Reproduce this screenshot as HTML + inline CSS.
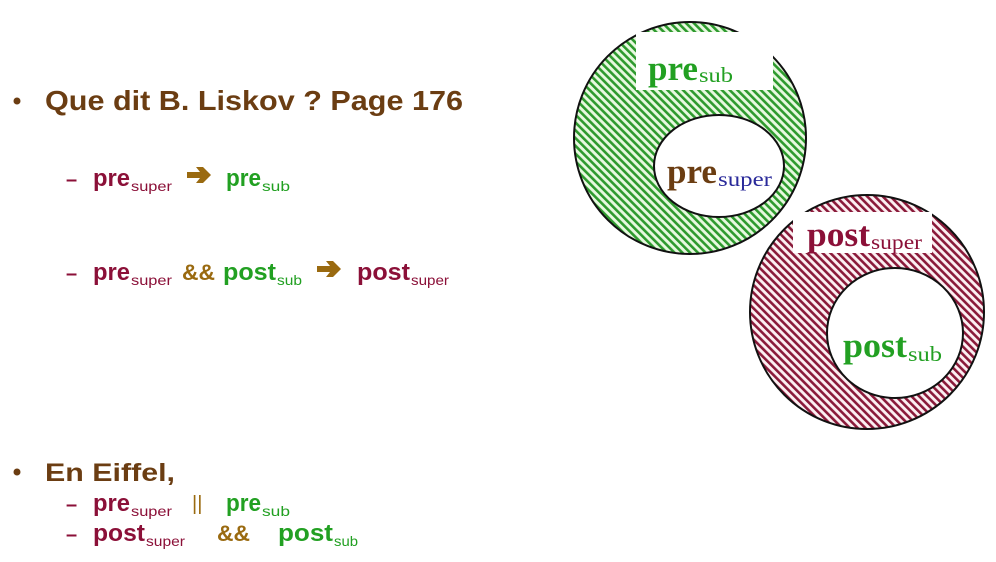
<!DOCTYPE html>
<html><head><meta charset="utf-8"><style>
html,body{margin:0;padding:0;background:#fff;}
svg{display:block;}
</style></head><body>
<svg width="996" height="562" viewBox="0 0 996 562" xmlns="http://www.w3.org/2000/svg">
<defs>
<pattern id="hg" patternUnits="userSpaceOnUse" width="5.5" height="5.5" patternTransform="rotate(-45)">
<rect width="5.5" height="5.5" fill="#e8f9e0"/><rect width="2.6" height="5.5" fill="#2e9a2e"/>
</pattern>
<pattern id="hr" patternUnits="userSpaceOnUse" width="5.5" height="5.5" patternTransform="rotate(-45)">
<rect width="5.5" height="5.5" fill="#fcf0f2"/><rect width="2.6" height="5.5" fill="#8a1a3a"/>
</pattern>
</defs>
<g font-family="Liberation Sans, sans-serif" font-weight="bold">
<circle cx="17" cy="101" r="3.5" fill="#6b3d12"/>
<text x="45" y="110" font-size="28" fill="#6b3d12" textLength="418" lengthAdjust="spacingAndGlyphs">Que dit B. Liskov ? Page 176</text>

<text x="66" y="186" font-size="20" fill="#8b1038">–</text>
<text x="93" y="186" font-size="24" fill="#8b1038" textLength="37" lengthAdjust="spacingAndGlyphs">pre</text>
<text x="131" y="191" font-size="14" font-weight="normal" fill="#8b1038" textLength="41" lengthAdjust="spacingAndGlyphs">super</text>
<polygon points="187,172 200,172 196,167 203,167 211,175 203,183 196,183 200,178 187,178" fill="#9a6a10"/>
<text x="226" y="186" font-size="24" fill="#22a022" textLength="35" lengthAdjust="spacingAndGlyphs">pre</text>
<text x="262" y="191" font-size="14" font-weight="normal" fill="#22a022" textLength="28" lengthAdjust="spacingAndGlyphs">sub</text>

<text x="66" y="280" font-size="20" fill="#8b1038">–</text>
<text x="93" y="280" font-size="24" fill="#8b1038" textLength="37" lengthAdjust="spacingAndGlyphs">pre</text>
<text x="131" y="285" font-size="14" font-weight="normal" fill="#8b1038" textLength="41" lengthAdjust="spacingAndGlyphs">super</text>
<text x="182" y="280" font-size="22" fill="#9a6a10" textLength="33" lengthAdjust="spacingAndGlyphs">&amp;&amp;</text>
<text x="223" y="280" font-size="24" fill="#22a022" textLength="53" lengthAdjust="spacingAndGlyphs">post</text>
<text x="277" y="285" font-size="14" font-weight="normal" fill="#22a022" textLength="25" lengthAdjust="spacingAndGlyphs">sub</text>
<polygon points="317,266 330,266 326,261 333,261 341,269 333,277 326,277 330,272 317,272" fill="#9a6a10"/>
<text x="357" y="280" font-size="24" fill="#8b1038" textLength="53" lengthAdjust="spacingAndGlyphs">post</text>
<text x="411" y="285" font-size="14" font-weight="normal" fill="#8b1038" textLength="38" lengthAdjust="spacingAndGlyphs">super</text>

<circle cx="17" cy="472" r="3.5" fill="#6b3d12"/>
<text x="45" y="481" font-size="25" fill="#6b3d12" textLength="130" lengthAdjust="spacingAndGlyphs">En Eiffel,</text>

<text x="66" y="511" font-size="20" fill="#8b1038">–</text>
<text x="93" y="511" font-size="24" fill="#8b1038" textLength="37" lengthAdjust="spacingAndGlyphs">pre</text>
<text x="131" y="516" font-size="14" font-weight="normal" fill="#8b1038" textLength="41" lengthAdjust="spacingAndGlyphs">super</text>
<text x="192" y="510" font-size="20" font-weight="normal" fill="#9a6a10">||</text>
<text x="226" y="511" font-size="24" fill="#22a022" textLength="35" lengthAdjust="spacingAndGlyphs">pre</text>
<text x="262" y="516" font-size="14" font-weight="normal" fill="#22a022" textLength="28" lengthAdjust="spacingAndGlyphs">sub</text>

<text x="66" y="541" font-size="20" fill="#8b1038">–</text>
<text x="93" y="541" font-size="24" fill="#8b1038" textLength="52" lengthAdjust="spacingAndGlyphs">post</text>
<text x="146" y="546" font-size="14" font-weight="normal" fill="#8b1038" textLength="39" lengthAdjust="spacingAndGlyphs">super</text>
<text x="217" y="541" font-size="22" fill="#9a6a10" textLength="33" lengthAdjust="spacingAndGlyphs">&amp;&amp;</text>
<text x="278" y="541" font-size="24" fill="#22a022" textLength="55" lengthAdjust="spacingAndGlyphs">post</text>
<text x="334" y="546" font-size="14" font-weight="normal" fill="#22a022" textLength="24" lengthAdjust="spacingAndGlyphs">sub</text>
</g>

<circle cx="690" cy="138" r="116" fill="url(#hg)" stroke="#111" stroke-width="2"/>
<ellipse cx="719" cy="166" rx="65" ry="51" fill="#fff" stroke="#111" stroke-width="2"/>
<rect x="636" y="32" width="137" height="58" fill="#fff"/>
<g font-family="Liberation Serif, serif">
<text x="648" y="80" font-size="35" font-weight="bold" fill="#22a022" textLength="50" lengthAdjust="spacingAndGlyphs">pre</text>
<text x="699" y="82" font-size="21" fill="#22a022" textLength="34" lengthAdjust="spacingAndGlyphs">sub</text>
<text x="667" y="183" font-size="35" font-weight="bold" fill="#6b3d12" textLength="50" lengthAdjust="spacingAndGlyphs">pre</text>
<text x="718" y="186" font-size="21" fill="#2a2a9a" textLength="54" lengthAdjust="spacingAndGlyphs">super</text>
</g>

<circle cx="867" cy="312" r="117" fill="url(#hr)" stroke="#111" stroke-width="2"/>
<ellipse cx="895" cy="333" rx="68" ry="65" fill="#fff" stroke="#111" stroke-width="2"/>
<rect x="793" y="212" width="139" height="41" fill="#fff"/>
<g font-family="Liberation Serif, serif">
<text x="807" y="246" font-size="35" font-weight="bold" fill="#8b1038" textLength="63" lengthAdjust="spacingAndGlyphs">post</text>
<text x="871" y="249" font-size="21" fill="#8b1038" textLength="51" lengthAdjust="spacingAndGlyphs">super</text>
<text x="843" y="357" font-size="35" font-weight="bold" fill="#22a022" textLength="64" lengthAdjust="spacingAndGlyphs">post</text>
<text x="908" y="361" font-size="21" fill="#22a022" textLength="34" lengthAdjust="spacingAndGlyphs">sub</text>
</g>
</svg>
</body></html>
